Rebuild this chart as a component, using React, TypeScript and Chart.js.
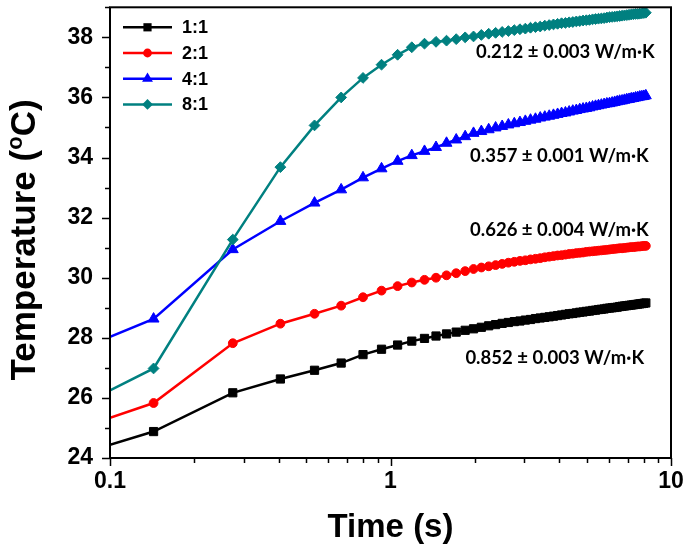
import React, { useEffect, useRef } from 'react';
import { Chart, registerables } from 'chart.js';

Chart.register(...registerables);

// ---- data ----
const TIME_S = [
  0.1, 0.143, 0.274, 0.405, 0.536, 0.667, 0.798, 0.929, 1.06, 1.191,
  1.322, 1.453, 1.584, 1.715, 1.846, 1.977, 2.108, 2.239, 2.37, 2.501,
  2.632, 2.763, 2.894, 3.025, 3.156, 3.287, 3.418, 3.549, 3.68, 3.811,
  3.942, 4.073, 4.204, 4.335, 4.466, 4.597, 4.728, 4.859, 4.99, 5.121,
  5.252, 5.383, 5.514, 5.645, 5.776, 5.907, 6.038, 6.169, 6.3, 6.431,
  6.562, 6.693, 6.824, 6.955, 7.086, 7.217, 7.348, 7.479, 7.61, 7.741,
  7.872, 8.003, 8.134,
];

const TEMP_1_1 = [
  24.44, 24.88, 26.17, 26.63, 26.92, 27.16, 27.44, 27.62, 27.76, 27.89,
  27.98, 28.06, 28.13, 28.19, 28.25, 28.3, 28.35, 28.4, 28.44, 28.48,
  28.51, 28.54, 28.56, 28.59, 28.61, 28.64, 28.66, 28.68, 28.7, 28.72,
  28.74, 28.76, 28.78, 28.8, 28.81, 28.83, 28.85, 28.86, 28.88, 28.89,
  28.91, 28.92, 28.94, 28.95, 28.96, 28.98, 28.99, 29.0, 29.01, 29.02,
  29.04, 29.05, 29.06, 29.07, 29.08, 29.09, 29.1, 29.11, 29.12, 29.13,
  29.14, 29.15, 29.16,
];

const TEMP_2_1 = [
  25.34, 25.83, 27.82, 28.47, 28.8, 29.07, 29.35, 29.57, 29.72, 29.84,
  29.93, 30.0, 30.08, 30.15, 30.22, 30.29, 30.34, 30.38, 30.42, 30.46,
  30.5, 30.53, 30.56, 30.58, 30.61, 30.63, 30.65, 30.68, 30.7, 30.72,
  30.74, 30.75, 30.77, 30.79, 30.8, 30.82, 30.83, 30.84, 30.86, 30.87,
  30.88, 30.89, 30.9, 30.91, 30.92, 30.93, 30.94, 30.95, 30.96, 30.97,
  30.98, 30.98, 30.99, 31.0, 31.01, 31.02, 31.02, 31.03, 31.04, 31.04,
  31.05, 31.06, 31.06,
];

const TEMP_4_1 = [
  28.03, 28.63, 30.94, 31.88, 32.49, 32.93, 33.33, 33.63, 33.88, 34.07,
  34.21, 34.34, 34.48, 34.59, 34.7, 34.81, 34.87, 34.93, 34.99, 35.04,
  35.09, 35.13, 35.17, 35.21, 35.25, 35.28, 35.32, 35.35, 35.38, 35.41,
  35.44, 35.47, 35.49, 35.52, 35.55, 35.57, 35.6, 35.62, 35.64, 35.66,
  35.69, 35.71, 35.73, 35.75, 35.77, 35.79, 35.8, 35.82, 35.84, 35.86,
  35.88, 35.89, 35.91, 35.93, 35.94, 35.96, 35.97, 35.99, 36.0, 36.02,
  36.03, 36.04, 36.06,
];

const TEMP_8_1 = [
  26.25, 26.98, 31.27, 33.68, 35.07, 36.0, 36.65, 37.09, 37.42, 37.67,
  37.79, 37.85, 37.89, 37.94, 38.0, 38.03, 38.08, 38.12, 38.15, 38.18,
  38.21, 38.24, 38.27, 38.29, 38.32, 38.34, 38.36, 38.39, 38.41, 38.43,
  38.45, 38.47, 38.48, 38.5, 38.51, 38.53, 38.54, 38.56, 38.57, 38.58,
  38.6, 38.61, 38.62, 38.63, 38.64, 38.66, 38.67, 38.68, 38.69, 38.7,
  38.71, 38.72, 38.73, 38.74, 38.75, 38.76, 38.77, 38.78, 38.78, 38.79,
  38.8, 38.81, 38.82,
];

const SERIES_LABELS = ['1:1', '2:1', '4:1', '8:1'];
const CONDUCTIVITY_LABELS = [
  '0.212 \u00b1 0.003 W/m\u00b7K',
  '0.357 \u00b1 0.001 W/m\u00b7K',
  '0.626 \u00b1 0.004 W/m\u00b7K',
  '0.852 \u00b1 0.003 W/m\u00b7K',
];
const X_TICK_LABELS = ['0.1', '1', '10'];
const X_MIN = 0.1;
const X_MAX = 10;
const Y_MIN = 24;
const Y_MAX = 39;
const X_TITLE = 'Time (s)';

// ---- layout & style (kept apart from data) ----
const ANNOTATION_ANCHORS = [
  { t: 4.2, temp: 37.51 },
  { t: 4.0, temp: 34.06 },
  { t: 4.0, temp: 31.6 },
  { t: 3.85, temp: 27.34 },
];
const SERIES_STYLES = [
  { color: '#000000', pointStyle: 'rect', radius: 5.8 },
  { color: '#ff0000', pointStyle: 'circle', radius: 4.4 },
  { color: '#0000ff', pointStyle: 'triangle', radius: 6.3 },
  { color: '#008080', pointStyle: 'rectRot', radius: 5.4 },
];
const FONT = "'Liberation Sans', Arial, Helvetica, sans-serif";
const ANNOT_FONT = "Lato, 'Open Sans', sans-serif";
const W = 685;
const H = 552;

function drawMarker(ctx: CanvasRenderingContext2D, style: string, x: number, y: number, r: number) {
  ctx.beginPath();
  if (style === 'rect') {
    const s = Math.SQRT1_2 * r;
    ctx.rect(x - s, y - s, 2 * s, 2 * s);
  } else if (style === 'circle') {
    ctx.arc(x, y, r, 0, Math.PI * 2);
  } else if (style === 'triangle') {
    let a = 0;
    ctx.moveTo(x + Math.sin(a) * r, y - Math.cos(a) * r);
    a += (2 * Math.PI) / 3;
    ctx.lineTo(x + Math.sin(a) * r, y - Math.cos(a) * r);
    a += (2 * Math.PI) / 3;
    ctx.lineTo(x + Math.sin(a) * r, y - Math.cos(a) * r);
    ctx.closePath();
  } else {
    ctx.moveTo(x - r, y);
    ctx.lineTo(x, y + r);
    ctx.lineTo(x + r, y);
    ctx.lineTo(x, y - r);
    ctx.closePath();
  }
  ctx.fill();
}

const decorPlugin = {
  id: 'decor',
  afterDatasetsDraw(chart: any) {
    const { ctx, chartArea: ca, scales } = chart;
    const xs = scales.x;
    const ys = scales.y;
    ctx.save();

    // frame
    ctx.strokeStyle = '#000';
    ctx.lineWidth = 2;
    ctx.strokeRect(ca.left, ca.top, ca.right - ca.left, ca.bottom - ca.top);

    // tick marks
    ctx.lineWidth = 1.5;
    ctx.beginPath();
    for (let v = Y_MIN; v <= Y_MAX; v++) {
      const py = Math.round(ys.getPixelForValue(v)) + 0.5;
      const len = (v - Y_MIN) % 2 === 0 ? 8 : 5;
      ctx.moveTo(ca.left - len, py);
      ctx.lineTo(ca.left, py);
    }
    for (let d = -1; d <= 0; d++) {
      for (let m = 1; m <= 9; m++) {
        const v = m * Math.pow(10, d);
        const px = Math.round(xs.getPixelForValue(v)) + 0.5;
        const len = m === 1 ? 8 : 5;
        ctx.moveTo(px, ca.bottom);
        ctx.lineTo(px, ca.bottom + len);
      }
    }
    {
      const px = Math.round(xs.getPixelForValue(X_MAX)) + 0.5;
      ctx.moveTo(px, ca.bottom);
      ctx.lineTo(px, ca.bottom + 8);
    }
    ctx.stroke();

    // legend
    const lx0 = ca.left + 13;
    const lx1 = ca.left + 62;
    SERIES_LABELS.forEach((label, i) => {
      const st = SERIES_STYLES[i];
      const ry = ca.top + 20 + i * 25.7;
      ctx.strokeStyle = st.color;
      ctx.fillStyle = st.color;
      ctx.lineWidth = 2.5;
      ctx.beginPath();
      ctx.moveTo(lx0, ry);
      ctx.lineTo(lx1, ry);
      ctx.stroke();
      drawMarker(ctx, st.pointStyle, (lx0 + lx1) / 2, ry, st.radius);
      ctx.fillStyle = '#000';
      ctx.font = `bold 18px ${FONT}`;
      ctx.textAlign = 'left';
      ctx.textBaseline = 'middle';
      ctx.fillText(label, ca.left + 72, ry + 1);
    });

    // conductivity annotations
    ctx.fillStyle = '#000';
    ctx.font = `bold 18.5px ${ANNOT_FONT}`;
    ctx.textAlign = 'center';
    ctx.textBaseline = 'middle';
    CONDUCTIVITY_LABELS.forEach((txt, i) => {
      const a = ANNOTATION_ANCHORS[i];
      ctx.fillText(txt, xs.getPixelForValue(a.t), ys.getPixelForValue(a.temp));
    });

    // x title
    ctx.font = `bold 33px ${FONT}`;
    ctx.textAlign = 'center';
    ctx.textBaseline = 'alphabetic';
    ctx.fillText(X_TITLE, (ca.left + ca.right) / 2, 537);

    // y title with superscript o
    const fs = 35;
    const big = `bold ${fs}px ${FONT}`;
    const small = `bold ${Math.round(fs * 0.62)}px ${FONT}`;
    const p1 = 'Temperature (';
    const p2 = 'o';
    const p3 = 'C)';
    ctx.font = big;
    const w1 = ctx.measureText(p1).width;
    const w3 = ctx.measureText(p3).width;
    ctx.font = small;
    const w2 = ctx.measureText(p2).width;
    const total = w1 + w2 + w3;
    ctx.translate(22, 240);
    ctx.rotate(-Math.PI / 2);
    const base = fs * 0.36;
    let x = -total / 2;
    ctx.textAlign = 'left';
    ctx.font = big;
    ctx.fillText(p1, x, base);
    x += w1;
    ctx.font = small;
    ctx.fillText(p2, x, base - fs * 0.36);
    x += w2;
    ctx.font = big;
    ctx.fillText(p3, x, base);

    ctx.restore();
  },
};

export default function App() {
  const ref = useRef<HTMLCanvasElement | null>(null);

  useEffect(() => {
    if (!ref.current) return;
    const series = [TEMP_1_1, TEMP_2_1, TEMP_4_1, TEMP_8_1];
    const datasets = series.map((vals, i) => {
      const st = SERIES_STYLES[i];
      return {
        label: SERIES_LABELS[i],
        data: TIME_S.map((t, k) => ({ x: t, y: vals[k] })),
        borderColor: st.color,
        backgroundColor: st.color,
        borderWidth: 2.5,
        pointStyle: st.pointStyle as any,
        // the first sample sits on the frame, where the reference shows no marker
        pointRadius: (c: any) => (c.dataIndex === 0 ? 0 : st.radius),
        pointBorderWidth: 1,
        pointBorderColor: st.color,
        pointBackgroundColor: st.color,
        tension: 0,
        order: 3 - i,
        clip: { left: 0, top: 8, right: 8, bottom: 0 },
      };
    });

    const chart = new Chart(ref.current, {
      type: 'line',
      data: { datasets },
      options: {
        animation: false,
        responsive: false,
        devicePixelRatio: 1,
        layout: { padding: { left: 0, top: 3, right: 14, bottom: 0 } },
        plugins: {
          legend: { display: false },
          tooltip: { enabled: false },
        },
        scales: {
          x: {
            type: 'logarithmic',
            min: X_MIN,
            max: X_MAX,
            border: { display: false },
            grid: {
              display: true,
              drawOnChartArea: false,
              drawTicks: true,
              tickLength: 8,
              tickColor: 'rgba(0,0,0,0)',
            },
            ticks: {
              autoSkip: false,
              maxRotation: 0,
              minRotation: 0,
              padding: 2,
              color: '#000',
              font: { family: FONT, size: 23, weight: 'bold' },
              callback: (v: any) => {
                const s = String(Number(v));
                return X_TICK_LABELS.includes(s) ? s : '';
              },
            },
            afterFit: (scale: any) => {
              scale.height = 94;
              scale.paddingLeft = 0;
              scale.paddingRight = 0;
            },
          },
          y: {
            type: 'linear',
            min: Y_MIN,
            max: Y_MAX,
            border: { display: false },
            grid: {
              display: true,
              drawOnChartArea: false,
              drawTicks: true,
              tickLength: 8,
              tickColor: 'rgba(0,0,0,0)',
            },
            ticks: {
              stepSize: 2,
              includeBounds: false,
              padding: 9,
              color: '#000',
              font: { family: FONT, size: 23, weight: 'bold' },
            },
            afterFit: (scale: any) => {
              scale.width = 110;
              scale.paddingTop = 0;
              scale.paddingBottom = 0;
            },
          },
        },
      },
      plugins: [decorPlugin],
    });

    return () => chart.destroy();
  }, []);

  return (
    <div style={{ position: 'fixed', left: 0, top: 0, width: W, height: H, background: '#fff' }}>
      <canvas ref={ref} width={W} height={H} style={{ width: W, height: H, display: 'block' }} />
    </div>
  );
}
